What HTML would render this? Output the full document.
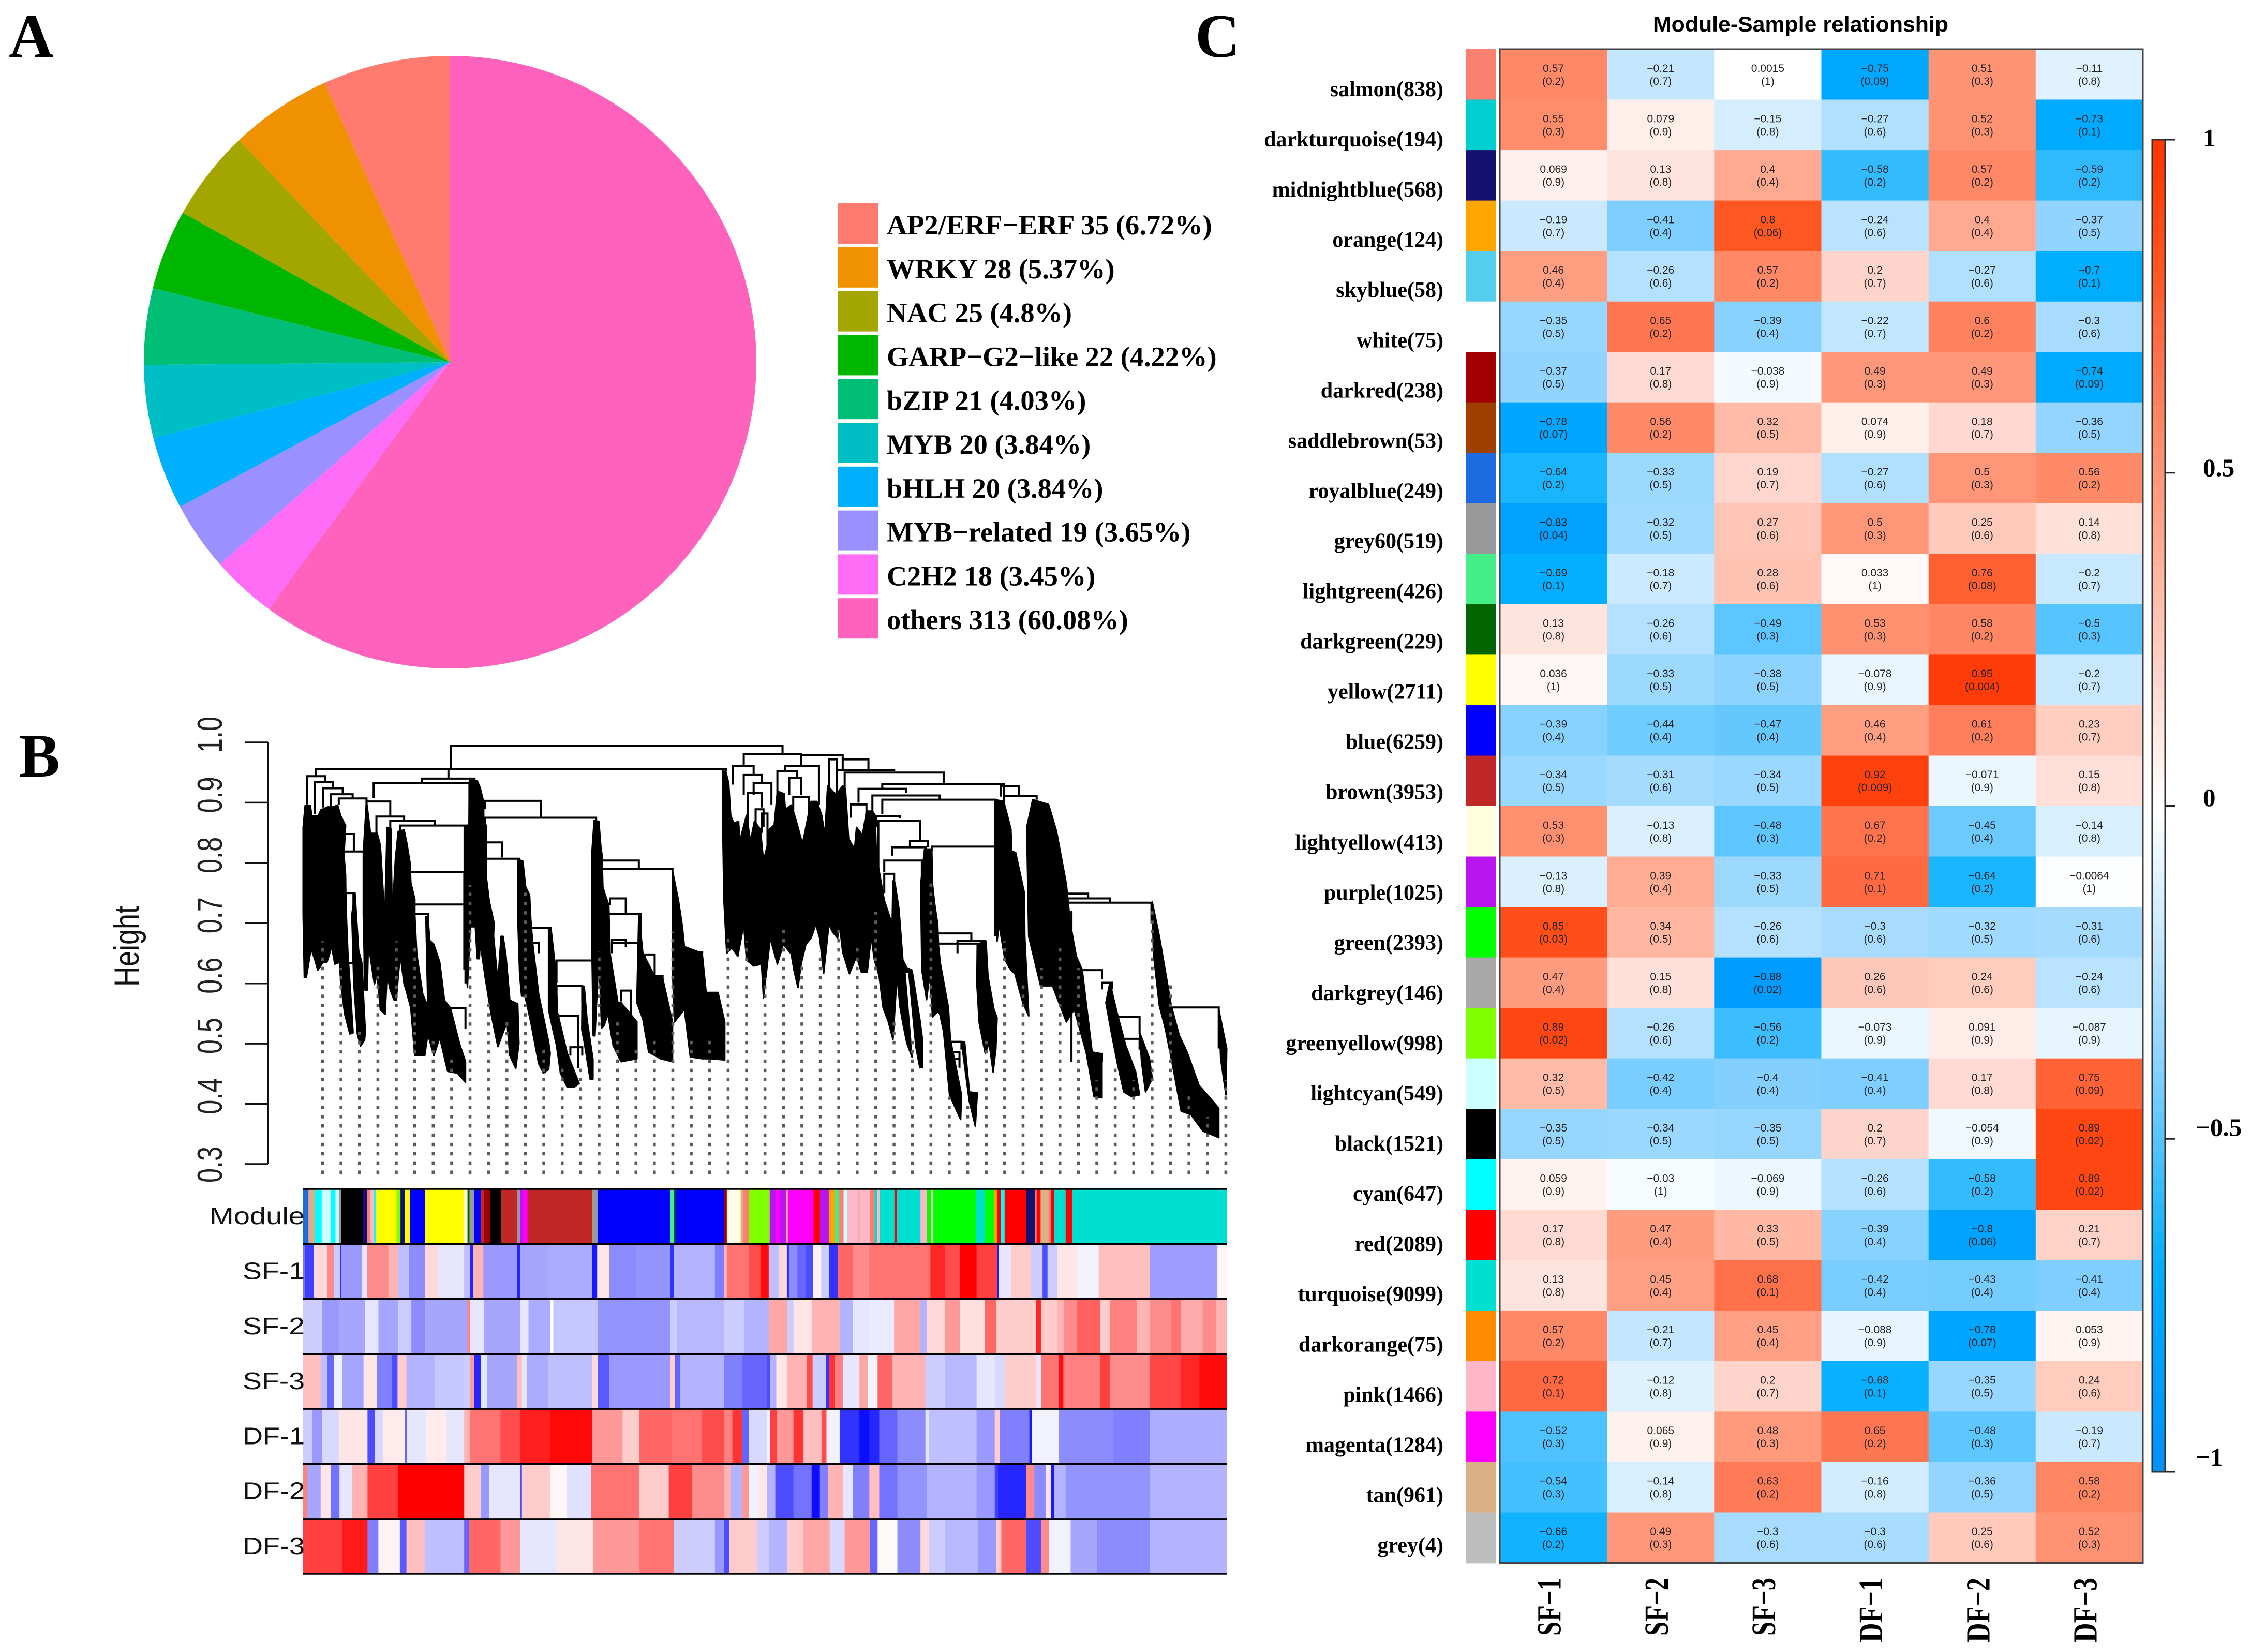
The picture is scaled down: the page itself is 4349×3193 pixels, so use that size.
<!DOCTYPE html>
<html>
<head>
<meta charset="utf-8">
<title>Module analysis figure</title>
<style>
html,body{margin:0;padding:0;background:#fff;}
svg{display:block;}
text{white-space:pre;}
.serif{font-family:"Liberation Serif",serif;font-weight:bold;}
.sans{font-family:"Liberation Sans",sans-serif;}
</style>
</head>
<body>
<svg id="fig" xmlns="http://www.w3.org/2000/svg" width="4349" height="3193" viewBox="0 0 4349 3193">
<rect width="4349" height="3193" fill="#fff"/>
<g id="pie"></g>
<g id="pieLegend"></g>
<g id="dendro"></g>
<g id="tracks"></g>
<g id="heat"></g>
<g id="cbar"></g>
<text x="17" y="110" class="serif" font-size="120">A</text>
<text x="36" y="1501" class="serif" font-size="120">B</text>
<text x="2310" y="110" class="serif" font-size="120">C</text>
<text x="3195" y="61" class="sans" font-weight="bold" font-size="42" textLength="571" lengthAdjust="spacingAndGlyphs">Module-Sample relationship</text>
</svg>
<script>
const NS = 'http://www.w3.org/2000/svg';

/* ---------- Panel A data ---------- */
const pieFamilies = ['AP2/ERF−ERF','WRKY','NAC','GARP−G2−like','bZIP','MYB','bHLH','MYB−related','C2H2','others'];
const pieCounts = [35,28,25,22,21,20,20,19,18,313];
const piePercents = ['6.72%','5.37%','4.8%','4.22%','4.03%','3.84%','3.84%','3.65%','3.45%','60.08%'];
const pieColors = ['#FF7B6F','#EF9100','#A3A500','#00B600','#00BE75','#00BFC4','#00B0FF','#9B90FF','#FF6CF5','#FF62BC'];

/* ---------- Panel B data ---------- */
const heightTicks = [1.0,0.9,0.8,0.7,0.6,0.5,0.4,0.3];
const heightTickLabels = ['1.0','0.9','0.8','0.7','0.6','0.5','0.4','0.3'];
const leafCount = 2333;
/* dendrogram lobes: outlines of dense branches as [leaf, height] */
const lobes = [
[[0,.859],[5,.895],[18,.895],[22,.878],[38,.878],[45,.888],[62,.893],[75,.893],[87,.896],[95,.878],[107,.862],[103,.813],[107,.780],[108,.730],[113,.648],[120,.582],[126,.518],[118,.516],[105,.549],[95,.599],[92,.635],[80,.632],[72,.661],[60,.635],[50,.635],[37,.622],[30,.638],[20,.658],[8,.610],[3,.610],[0,.714]],
[[123,.714],[131,.750],[140,.655],[148,.635],[157,.520],[155,.506],[145,.496],[137,.516],[128,.600]],
[[152,.816],[160,.903],[170,.849],[187,.849],[195,.829],[206,.707],[209,.780],[212,.859],[222,.857],[222,.832],[225,.714],[233,.806],[240,.852],[255,.855],[262,.832],[270,.800],[272,.767],[282,.740],[282,.714],[287,.648],[302,.582],[315,.562],[310,.711],[315,.711],[320,.671],[330,.665],[345,.635],[357,.572],[372,.559],[395,.500],[410,.470],[410,.436],[390,.451],[365,.454],[345,.510],[330,.480],[315,.516],[307,.480],[282,.480],[272,.559],[260,.589],[255,.599],[245,.648],[235,.572],[230,.572],[220,.589],[212,.615],[207,.549],[195,.556],[187,.615],[180,.599],[170,.642],[165,.675],[162,.589],[156,.589],[152,.714]],
[[419,.864],[420,.936],[440,.936],[447,.925],[456,.901],[456,.875],[462,.862],[462,.780],[470,.737],[482,.701],[481,.678],[492,.602],[500,.678],[505,.678],[512,.648],[522,.572],[542,.566],[545,.500],[537,.459],[522,.480],[515,.536],[492,.495],[475,.549],[460,.609],[447,.668],[445,.641],[440,.641],[435,.694],[422,.694],[415,.594],[407,.665],[407,.859]],
[[542,.806],[555,.803],[562,.760],[572,.747],[575,.707],[580,.665],[595,.582],[620,.503],[624,.484],[620,.457],[607,.451],[595,.467],[575,.536],[565,.566],[560,.579],[552,.579],[547,.615],[542,.714]],
[[620,.691],[626,.691],[639,.615],[642,.553],[667,.484],[697,.434],[685,.428],[667,.428],[650,.451],[640,.497],[630,.526],[620,.556]],
[[705,.595],[710,.595],[717,.540],[732,.474],[732,.441],[725,.441],[710,.503],[704,.523]],
[[735,.870],[747,.869],[752,.826],[755,.813],[757,.760],[763,.747],[772,.730],[775,.65],[795,.568],[803,.568],[843,.536],[843,.475],[803,.470],[783,.497],[770,.549],[760,.530],[754,.526],[750,.60],[745,.620],[737,.513],[733,.513],[730,.640],[729,.813]],
[[848,.716],[858,.650],[888,.612],[908,.609],[933,.536],[933,.470],[903,.475],[873,.486],[858,.541],[843,.568]],
[[933,.787],[948,.738],[958,.694],[963,.661],[1008,.650],[1018,.585],[1048,.585],[1065,.536],[1065,.473],[1028,.475],[1008,.475],[978,.478],[963,.557],[938,.536],[933,.623]],
[[1060,.953],[1068,.951],[1075,.932],[1080,.879],[1088,.866],[1100,.869],[1103,.836],[1120,.879],[1130,.836],[1140,.869],[1155,.856],[1163,.803],[1173,.830],[1173,.853],[1190,.863],[1198,.919],[1215,.915],[1218,.889],[1233,.896],[1243,.876],[1258,.840],[1263,.836],[1273,.869],[1283,.902],[1298,.902],[1310,.879],[1318,.846],[1325,.928],[1343,.915],[1353,.919],[1363,.928],[1370,.922],[1378,.840],[1393,.823],[1398,.859],[1413,.846],[1423,.886],[1438,.886],[1445,.879],[1448,.813],[1468,.738],[1488,.698],[1490,.770],[1495,.767],[1505,.724],[1515,.639],[1525,.626],[1538,.622],[1558,.540],[1565,.504],[1565,.461],[1558,.460],[1548,.494],[1530,.619],[1520,.619],[1538,.478],[1525,.501],[1515,.534],[1508,.560],[1500,.613],[1490,.507],[1478,.537],[1465,.560],[1455,.613],[1443,.639],[1435,.678],[1425,.619],[1410,.619],[1398,.645],[1380,.616],[1363,.652],[1355,.698],[1350,.675],[1338,.685],[1328,.698],[1315,.617],[1305,.675],[1295,.698],[1283,.675],[1270,.665],[1258,.632],[1250,.593],[1240,.622],[1233,.649],[1213,.665],[1198,.632],[1180,.675],[1163,.576],[1158,.632],[1138,.629],[1120,.639],[1113,.698],[1098,.645],[1083,.659],[1070,.650],[1063,.738],[1060,.863]],
[[1570,.823],[1588,.823],[1590,.764],[1595,.734],[1603,.698],[1605,.662],[1610,.632],[1630,.560],[1635,.507],[1663,.415],[1661,.374],[1633,.415],[1618,.520],[1608,.550],[1603,.553],[1590,.544],[1583,.616],[1575,.573],[1563,.622],[1560,.764]],
[[1663,.503],[1671,.503],[1683,.420],[1703,.418],[1698,.363],[1683,.404]],
[[1703,.665],[1725,.670],[1730,.612],[1745,.557],[1753,.543],[1750,.491],[1743,.453],[1733,.501],[1723,.484],[1708,.534],[1702,.599]],
[[1748,.905],[1770,.902],[1788,.856],[1790,.820],[1800,.817],[1822,.750],[1823,.678],[1833,.546],[1818,.568],[1798,.616],[1788,.622],[1773,.639],[1758,.698],[1753,.670],[1748,.797]],
[[1828,.859],[1843,.905],[1883,.897],[1903,.853],[1928,.765],[1938,.700],[1953,.645],[1968,.623],[1993,.486],[2018,.483],[2018,.410],[1998,.412],[1978,.486],[1948,.557],[1928,.536],[1893,.596],[1863,.596],[1833,.678]],
[[2038,.601],[2058,.546],[2078,.497],[2103,.453],[2113,.415],[2093,.412],[2073,.420],[2058,.464],[2043,.514],[2028,.568]],
[[2113,.519],[2138,.475],[2145,.442],[2128,.420],[2118,.470]],
[[2145,.735],[2163,.678],[2193,.563],[2213,.514],[2233,.486],[2263,.431],[2313,.393],[2313,.344],[2273,.355],[2243,.382],[2218,.388],[2198,.459],[2178,.525],[2163,.563],[2148,.650]],
[[2313,.557],[2333,.492],[2331,.415],[2318,.475]]
];
/* merges: [leftLeaf, rightLeaf, mergeHeight, leftChildHeight, rightChildHeight] */
const merges = [
[373,1211,.994,.957,.982],[32,1068,.956,.944,.952],[367,367,.956,.94,.94],[300,433,.940,.933,.930],[178,420,.933,.908,.864],
[10,55,.944,.897,.935],[30,75,.934,.881,.924],[50,100,.924,.892,.916],[70,125,.914,.892,.908],[90,160,.907,.897,.787],
[160,220,.902,.787,.878],[185,255,.877,.848,.872],[220,333,.870,.853,.863],[245,420,.862,.842,.733],[270,407,.785,.793,.733],
[280,407,.731,.716,.623],[280,315,.715,.70,.661],[460,600,.903,.89,.875],[460,740,.875,.859,.640],[460,503,.834,.82,.809],
[460,545,.807,.80,.787],[575,625,.692,.67,.640],[575,595,.667,.65,.65],[640,733,.638,.601,.514],[640,705,.596,.57,.568],
[645,695,.546,.52,.459],[675,705,.494,.48,.48],[103,155,.819,.80,.596],[103,128,.848,.82,.819],[108,127,.750,.74,.634],
[110,140,.634,.62,.62],[755,848,.804,.79,.790],[755,933,.790,.78,.787],[765,853,.715,.70,.552],[775,815,.741,.73,.716],
[780,848,.667,.65,.568],[780,815,.672,.66,.66],[863,888,.648,.63,.612],[888,908,.612,.60,.541],[803,828,.588,.57,.541],
[1113,1258,.981,.961,.979],[1258,1363,.979,.961,.972],[1363,1428,.972,.952,.954],[1086,1138,.961,.930,.946],[1113,1158,.946,.913,.933],
[1138,1183,.933,.913,.897],[1123,1158,.916,.842,.892],[1143,1163,.889,.84,.86],[1158,1173,.882,.85,.83],[1198,1248,.952,.913,.941],
[1218,1303,.961,.952,.897],[1228,1258,.941,.913,.913],[1238,1278,.909,.875,.837],[1328,1348,.972,.88,.88],[1348,1493,.954,.90,.952],
[1368,1618,.950,.886,.933],[1463,1771,.931,.924,.913],[1403,1523,.923,.900,.916],[1438,1608,.912,.881,.906],[1463,1748,.905,.881,.678],
[1383,1423,.897,.875,.881],[1448,1508,.878,.86,.874],[1453,1558,.870,.787,.837],[1533,1578,.836,.826,.826],[1488,1573,.826,.812,.804],
[1588,1748,.827,.82,.75],[1468,1563,.804,.785,.733],[1763,1808,.927,.91,.913],[1771,1853,.911,.89,.905],[1468,1493,.782,.75,.76],
[1928,1983,.749,.74,.74],[1928,2038,.741,.73,.734],[1928,2143,.734,.70,.700],[1603,1688,.683,.67,.672],[1603,1708,.666,.62,.656],
[1653,1723,.671,.65,.623],[1963,2018,.622,.61,.607],[2018,2043,.601,.59,.59],[2193,2313,.560,.55,.492],[963,1008,.652,.66,.65],
[963,1003,.619,.60,.536],[1633,1663,.503,.49,.49],[1638,1658,.486,.47,.47],[1643,1658,.475,.46,.46],[2058,2113,.544,.53,.516],
[2068,2113,.508,.49,.49],[1993,2018,.483,.47,.47],[1941,1941,.72,.47,.47],[410,410,.75,.60,.60],[365,410,.559,.55,.525]
];
/* where each dotted leaf guide emerges from the tree */
const guideTops = [.640,.596,.497,.601,.640,.629,.481,.453,.733,.546,.514,.722,.459,.431,.437,.623,.514,.464,.475,.656,.475,.475,.650,.640,.579,.661,.601,.623,.667,.629,.689,.508,.475,.744,.382,.371,.481,.640,.568,.596,.634,.596,.410,.431,.410,.700,.568,.388,.349,.410];

const trackLabels = ['Module','SF-1','SF-2','SF-3','DF-1','DF-2','DF-3'];
const moduleColors = {salmon:'#fa8072',darkturquoise:'#00ced1',midnightblue:'#14126e',orange:'#ffa500',skyblue:'#55ceee',white:'#ffffff',darkred:'#a00000',saddlebrown:'#a04000',royalblue:'#1e6ae0',grey60:'#999999',lightgreen:'#44ee88',darkgreen:'#006400',yellow:'#ffff00',blue:'#0000ff',brown:'#c02828',lightyellow:'#ffffe0',purple:'#b915ee',green:'#00ff00',darkgrey:'#a9a9a9',greenyellow:'#7fff00',lightcyan:'#ccffff',black:'#000000',cyan:'#00ffff',red:'#ff0000',turquoise:'#00e0d0',darkorange:'#ff8c00',pink:'#ffb6c8',magenta:'#ff00ff',tan:'#dcb085',grey:'#bebebe'};
/* module membership in dendrogram order: [module, gene bins] */
const moduleTrack = [['royalblue',16],['tan',20],['cyan',20],['lightcyan',27],['cyan',15],['lightcyan',10],['grey60',8],['black',64],['midnightblue',13],['salmon',10],['pink',12],['cyan',6],['yellow',62],['greenyellow',12],['midnightblue',13],['yellow',15],['blue',47],['yellow',118],['lightyellow',10],['darkgreen',6],['grey60',14],['blue',20],['brown',10],['darkred',18],['black',33],['brown',49],['grey60',10],['purple',8],['magenta',14],['brown',195],['grey60',18],['blue',220],['lightgreen',10],['darkgreen',5],['blue',148],
['darkred',8],['lightyellow',12],['white',8],['lightyellow',22],['tan',8],['salmon',17],['greenyellow',63],['purple',19],['magenta',13],['purple',17],['tan',6],['magenta',78],['red',19],['purple',27],['orange',18],['lightgreen',12],['salmon',15],['lightcyan',10],['pink',35],['tan',3],['pink',32],['salmon',14],['turquoise',7],['pink',8],['turquoise',45],['red',8],['turquoise',71],['pink',20],['green',13],['pink',6],['green',129],['turquoise',26],['green',30],['orange',9],['red',10],['cyan',12],['red',65],['midnightblue',27],['salmon',5],['red',12],['tan',24],['salmon',7],['red',10],['turquoise',35],['red',20],['turquoise',468]];
/* per-sample expression: [scaled expression, gene bins] */
const trackSF1 = [[-.55,5],[-.75,28],[.15,40],[.45,20],[-.2,20],[-.85,3],[-.4,62],[-.1,15],[.45,65],[.3,30],[-.25,32],[-.45,50],[.15,38],[-.1,80],[-.25,17],[-.85,11],[.3,30],[-.4,102],[-.85,10],[-.35,85],[-.33,132],[-.9,16],[.1,37],[-.45,80],[-.42,105],[-.8,10],[-.3,125],[-.5,28],
[.3,8],[.55,67],[.7,35],[.95,25],[-.25,30],[.15,25],[-.8,7],[-.45,25],[-.6,26],[-.7,22],[.05,24],[-.2,24],[-.8,27],[.6,45],[.45,50],[.55,85],[.55,100],[.85,45],[.7,45],[1,50],[.75,63],[-.9,4],[-.1,38],[.2,60],[-.2,35],[-.7,15],[-.2,30],[.1,60],[-.05,65],[.25,155],[-.38,205],[.03,28]];
const trackSF2 = [[-.2,58],[-.4,50],[-.35,80],[-.1,40],[-.35,60],[-.2,40],[-.45,42],[-.35,128],[.5,8],[-.1,42],[-.35,110],[-.1,25],[-.33,65],[0,10],[-.22,135],[-.42,220],[-.2,20],[-.28,143],
[-.2,60],[-.3,75],[.35,55],[-.2,20],[.1,55],[.3,85],[-.3,40],[-.1,50],[-.08,75],[.35,80],[-.3,20],[.15,55],[.4,45],[.12,75],[.6,35],[.2,120],[.85,15],[.2,50],[.3,20],[.45,40],[.62,70],[.2,30],[.5,80],[.3,40],[.45,65],[.55,30],[.33,65],[.45,40],[.3,33]];
const trackSF3 = [[.25,53],[-.25,20],[-.6,20],[-.05,25],[-.35,65],[.1,40],[-.5,45],[-.7,18],[.2,27],[-.3,85],[-.22,90],[-.2,17],[.4,13],[-.85,20],[-.1,20],[-.35,90],[.25,15],[-.1,15],[-.33,65],[-.25,132],[.15,18],[-.65,35],[-.4,80],[-.4,105],[.2,13],[-.6,17],[-.3,133],
[-.5,55],[-.6,75],[-.7,10],[-.3,18],[.1,32],[.3,60],[.7,18],[-.2,40],[-.8,10],[.8,17],[.5,25],[-.1,50],[.35,25],[-.05,30],[.6,45],[.3,100],[-.2,60],[-.28,95],[-.1,55],[-.15,30],[.2,95],[-.1,15],[.55,55],[.95,13],[.5,112],[.75,30],[.45,120],[.72,95],[.85,55],[.95,83]];
const trackDF1 = [[-.2,28],[-.4,30],[-.15,50],[.1,87],[-.7,23],[-.15,25],[.08,65],[-.6,7],[-.1,58],[.08,60],[-.1,55],[.3,17],[.55,93],[.7,60],[.88,90],[.97,127],[.4,93],[.2,50],[.6,100],[.55,90],[.7,68],
[.5,25],[.8,30],[-.6,20],[-.15,55],[-.05,10],[.75,20],[.4,50],[.8,30],[.25,55],[.7,15],[-.05,40],[-.8,60],[-.95,30],[-.85,30],[-.6,55],[-.45,85],[-.1,10],[-.25,145],[-.4,55],[.2,15],[-.5,90],[-.9,7],[-.05,83],[-.45,165],[-.5,110],[-.32,233]];
const trackDF2 = [[.5,13],[-.35,40],[.1,30],[-.55,27],[-.1,38],[.3,47],[.75,93],[1,200],[.2,50],[-.4,25],[-.1,95],[-.7,5],[.2,85],[.03,50],[-.12,75],[.55,145],[.2,90],[.75,70],[.45,98],
[.3,20],[-.3,35],[.4,20],[-.05,30],[.1,25],[-.3,25],[-.7,55],[-.55,55],[-.95,25],[-.5,25],[.3,45],[-.1,30],[-.5,50],[.25,30],[-.55,55],[-.42,90],[-.3,150],[-.4,55],[-.75,10],[-.85,85],[.45,25],[-.45,35],[.1,15],[-.9,10],[-.3,35],[-.42,255],[-.3,233]];
const trackDF3 = [[.75,118],[.9,77],[-.5,33],[.05,65],[-.65,20],[.25,55],[-.25,120],[-.6,15],[.6,95],[.4,60],[-.1,110],[.1,110],[.4,140],[.55,105],[-.2,125],[-.4,28],
[-.7,15],[.2,85],[-.2,35],[-.3,55],[.2,50],[.35,80],[-.15,45],[.4,77],[-.6,23],[.02,60],[-.45,70],[.15,25],[-.2,50],[-.28,100],[-.4,55],[.2,15],[.6,75],[-.7,45],[.45,25],[-.05,65],[-.35,80],[-.45,160],[-.3,233]];

/* ---------- Panel C data ---------- */
const samples = ['SF-1','SF-2','SF-3','DF-1','DF-2','DF-3'];
const modules = ['salmon','darkturquoise','midnightblue','orange','skyblue','white','darkred','saddlebrown','royalblue','grey60','lightgreen','darkgreen','yellow','blue','brown','lightyellow','purple','green','darkgrey','greenyellow','lightcyan','black','cyan','red','turquoise','darkorange','pink','magenta','tan','grey'];
const moduleSizes = [838,194,568,124,58,75,238,53,249,519,426,229,2711,6259,3953,413,1025,2393,146,998,549,1521,647,2089,9099,75,1466,1284,961,4];
const correlations = [
[.57,-.21,.0015,-.75,.51,-.11],
[.55,.079,-.15,-.27,.52,-.73],
[.069,.13,.4,-.58,.57,-.59],
[-.19,-.41,.8,-.24,.4,-.37],
[.46,-.26,.57,.2,-.27,-.7],
[-.35,.65,-.39,-.22,.6,-.3],
[-.37,.17,-.038,.49,.49,-.74],
[-.78,.56,.32,.074,.18,-.36],
[-.64,-.33,.19,-.27,.5,.56],
[-.83,-.32,.27,.5,.25,.14],
[-.69,-.18,.28,.033,.76,-.2],
[.13,-.26,-.49,.53,.58,-.5],
[.036,-.33,-.38,-.078,.95,-.2],
[-.39,-.44,-.47,.46,.61,.23],
[-.34,-.31,-.34,.92,-.071,.15],
[.53,-.13,-.48,.67,-.45,-.14],
[-.13,.39,-.33,.71,-.64,-.0064],
[.85,.34,-.26,-.3,-.32,-.31],
[.47,.15,-.88,.26,.24,-.24],
[.89,-.26,-.56,-.073,.091,-.087],
[.32,-.42,-.4,-.41,.17,.75],
[-.35,-.34,-.35,.2,-.054,.89],
[.059,-.03,-.069,-.26,-.58,.89],
[.17,.47,.33,-.39,-.8,.21],
[.13,.45,.68,-.42,-.43,-.41],
[.57,-.21,.45,-.088,-.78,.053],
[.72,-.12,.2,-.68,-.35,.24],
[-.52,.065,.48,.65,-.48,-.19],
[-.54,-.14,.63,-.16,-.36,.58],
[-.66,.49,-.3,-.3,.25,.52]];
const pValues = [
['0.2','0.7','1','0.09','0.3','0.8'],
['0.3','0.9','0.8','0.6','0.3','0.1'],
['0.9','0.8','0.4','0.2','0.2','0.2'],
['0.7','0.4','0.06','0.6','0.4','0.5'],
['0.4','0.6','0.2','0.7','0.6','0.1'],
['0.5','0.2','0.4','0.7','0.2','0.6'],
['0.5','0.8','0.9','0.3','0.3','0.09'],
['0.07','0.2','0.5','0.9','0.7','0.5'],
['0.2','0.5','0.7','0.6','0.3','0.2'],
['0.04','0.5','0.6','0.3','0.6','0.8'],
['0.1','0.7','0.6','1','0.08','0.7'],
['0.8','0.6','0.3','0.3','0.2','0.3'],
['1','0.5','0.5','0.9','0.004','0.7'],
['0.4','0.4','0.4','0.4','0.2','0.7'],
['0.5','0.6','0.5','0.009','0.9','0.8'],
['0.3','0.8','0.3','0.2','0.4','0.8'],
['0.8','0.4','0.5','0.1','0.2','1'],
['0.03','0.5','0.6','0.6','0.5','0.6'],
['0.4','0.8','0.02','0.6','0.6','0.6'],
['0.02','0.6','0.2','0.9','0.9','0.9'],
['0.5','0.4','0.4','0.4','0.8','0.09'],
['0.5','0.5','0.5','0.7','0.9','0.02'],
['0.9','1','0.9','0.6','0.2','0.02'],
['0.8','0.4','0.5','0.4','0.06','0.7'],
['0.8','0.4','0.1','0.4','0.4','0.4'],
['0.2','0.7','0.4','0.9','0.07','0.9'],
['0.1','0.8','0.7','0.1','0.5','0.6'],
['0.3','0.9','0.3','0.2','0.3','0.7'],
['0.3','0.8','0.2','0.8','0.5','0.2'],
['0.2','0.3','0.6','0.6','0.6','0.3']];
const colorbarTicks = [1,.5,0,-.5,-1];
const colorbarTickLabels = ['1','0.5','0','−0.5','−1'];

/* ---------- helpers ---------- */
function mk(tag, parent, attrs){
  const el = document.createElementNS(NS, tag);
  for (const k in attrs) el.setAttribute(k, attrs[k]);
  parent.appendChild(el);
  return el;
}
function hex(c){return [parseInt(c.slice(1,3),16),parseInt(c.slice(3,5),16),parseInt(c.slice(5,7),16)];}
const negStops = [[0,'#ffffff'],[.21,'#c4e7ff'],[.37,'#90d4ff'],[.58,'#33bbff'],[.7,'#00aeff'],[1,'#0090ff']];
const posStops = [[0,'#ffffff'],[.2,'#ffd4ca'],[.4,'#ffaa90'],[.57,'#ff8866'],[.72,'#ff6840'],[.8,'#ff5722'],[1,'#ff3300']];
function corrColor(v){
  const s = v<0?negStops:posStops, a=Math.min(1,Math.abs(v));
  for(let i=1;i<s.length;i++){
    if(a<=s[i][0]){
      const t=(a-s[i-1][0])/(s[i][0]-s[i-1][0]),p=hex(s[i-1][1]),q=hex(s[i][1]);
      return 'rgb('+p.map((x,j)=>Math.round(x+(q[j]-x)*t)).join(',')+')';
    }
  }
  return s[s.length-1][1];
}
function exprColor(v){
  const u=Math.round(255*(1-Math.abs(v)));
  return v>=0?'rgb(255,'+u+','+u+')':'rgb('+u+','+u+',255)';
}

/* ---------- Panel A ---------- */
(function(){
  const g=document.getElementById('pie'), lg=document.getElementById('pieLegend');
  const cx=870, cy=700, r=592;
  const total=pieCounts.reduce((a,b)=>a+b,0);
  let acc=0;
  pieCounts.forEach(function(n,i){
    const a0=acc/total*2*Math.PI, a1=(acc+n)/total*2*Math.PI;
    acc+=n;
    const x0=cx-r*Math.sin(a0), y0=cy-r*Math.cos(a0), x1=cx-r*Math.sin(a1), y1=cy-r*Math.cos(a1);
    const large=(a1-a0)>Math.PI?1:0;
    const p=mk('path',g,{d:'M'+cx+' '+cy+'L'+x0+' '+y0+'A'+r+' '+r+' 0 '+large+' 0 '+x1+' '+y1+'Z',fill:pieColors[i]});
    
    
    const sw=mk('rect',lg,{x:1619,y:393+i*84.8,width:78,height:78,fill:pieColors[i]});
    
    
    const t=mk('text',lg,{x:1714,y:453+i*84.8,'class':'serif','font-size':54.4});
    t.textContent=pieFamilies[i]+' '+n+' ('+piePercents[i]+')';
    
    
  });
})();

/* ---------- Panel B ---------- */
const xLeft=586, xRight=2371;
function leafX(l){return xLeft+l*(xRight-xLeft)/leafCount;}
function heightY(h){return 1435+(1-h)*(2250-1435)/0.7;}
(function(){
  const g=document.getElementById('dendro');
  /* axis */
  const ax=mk('path',g,{d:'M518 '+heightY(1)+'V'+heightY(.3),stroke:'#111','stroke-width':4,fill:'none'});
  
  
  heightTicks.forEach(function(h,i){
    const y=heightY(h);
    const tk=mk('line',g,{x1:474,x2:518,y1:y,y2:y,stroke:'#111','stroke-width':3.5});
    
    
    const ly=y+(i===heightTicks.length-1?1:-15);
    const t=mk('text',g,{transform:'translate(429,'+ly+') rotate(-90)','text-anchor':'middle','class':'sans','font-size':68,textLength:70,lengthAdjust:'spacingAndGlyphs',fill:'#222'});
    t.textContent=heightTickLabels[i];
    
    
  });
  const yt=mk('text',g,{transform:'translate(268,1829) rotate(-90)','text-anchor':'middle','class':'sans','font-size':68,textLength:156,lengthAdjust:'spacingAndGlyphs',fill:'#111'});
  yt.textContent='Height';
  
  
  /* lobes */
  lobes.forEach(function(pts){
    const pg=mk('polygon',g,{points:pts.map(p=>leafX(p[0]).toFixed(1)+','+heightY(p[1]).toFixed(1)).join(' '),fill:'#000',stroke:'#000','stroke-width':3,'stroke-linejoin':'round'});
    
    
  });
  /* merges */
  merges.forEach(function(m){
    const xl=leafX(m[0]),xr=leafX(m[1]),y=heightY(m[2]);
    const p=mk('path',g,{d:'M'+xl+' '+heightY(m[3])+'V'+y+'H'+xr+'V'+heightY(m[4]),fill:'none',stroke:'#000','stroke-width':4});
    
    
  });
  /* guides, drawn from the baseline upward over the tree */
  guideTops.forEach(function(h,i){
    const x=leafX(49+i*46.57);
    const d=mk('line',g,{x1:x,x2:x,y1:2269,y2:heightY(h+.03),stroke:'#5a5a5a','stroke-width':5.5,'stroke-dasharray':'6.5 11.4'});
    
    
  });
})();
(function(){
  const g=document.getElementById('tracks');
  const tracks=[moduleTrack,trackSF1,trackSF2,trackSF3,trackDF1,trackDF2,trackDF3];
  const rowTop=2298, rowH=106.3;
  tracks.forEach(function(tr,r){
    const total=tr.reduce((a,b)=>a+b[1],0);
    let acc=0;
    const y=rowTop+r*rowH;
    tr.forEach(function(s){
      const x0=xLeft+acc/total*(xRight-xLeft);
      acc+=s[1];
      const x1=xLeft+acc/total*(xRight-xLeft);
      const c=r===0?moduleColors[s[0]]:exprColor(s[0]);
      const b=mk('rect',g,{x:x0.toFixed(2),y:y.toFixed(1),width:(x1-x0+.4).toFixed(2),height:rowH.toFixed(1),fill:c});
      
      
    });
    const t=mk('text',g,{x:589,y:(y+rowH/2+15).toFixed(1),'text-anchor':'end','class':'sans','font-size':46,textLength:r===0?184:120,lengthAdjust:'spacingAndGlyphs',fill:'#111'});
    t.textContent=trackLabels[r];
    
    
  });
  for(let i=0;i<=7;i++){
    const y=rowTop+i*rowH;
    const l=mk('line',g,{x1:xLeft,x2:xRight,y1:y,y2:y,stroke:'#000','stroke-width':3.4});
    
    
  }
})();

/* ---------- Panel C ---------- */
function fmt(v){return (v<0?'−':'')+String(Math.abs(v));}
(function(){
  const g=document.getElementById('heat');
  const x0=2899, y0=95, cw=(4142-2899)/samples.length, rh=(3021-95)/modules.length;
  correlations.forEach(function(row,r){
    const y=y0+r*rh;
    const sw=mk('rect',g,{x:2833,y:y.toFixed(1),width:58,height:(rh+.4).toFixed(1),fill:moduleColors[modules[r]]});
    
    
    const lb=mk('text',g,{x:2790,y:(186+r*97.05).toFixed(1),'text-anchor':'end','class':'serif','font-size':42});
    lb.textContent=modules[r]+'('+moduleSizes[r]+')';
    
    
    row.forEach(function(v,c){
      const x=x0+c*cw;
      const cell=mk('rect',g,{x:x.toFixed(1),y:y.toFixed(1),width:(cw+.4).toFixed(1),height:(rh+.4).toFixed(1),fill:corrColor(v)});
      
      
      const t1=mk('text',g,{x:(x+cw/2).toFixed(1),y:(y+rh/2-5).toFixed(1),'text-anchor':'middle','class':'sans','font-size':21,fill:'#222'});
      t1.textContent=fmt(v);
      
      
      const t2=mk('text',g,{x:(x+cw/2).toFixed(1),y:(y+rh/2+20).toFixed(1),'text-anchor':'middle','class':'sans','font-size':21,fill:'#222'});
      t2.textContent='('+pValues[r][c]+')';
      
      
    });
  });
  const frame=mk('rect',g,{x:x0,y:y0,width:4142-x0,height:3021-y0,fill:'none',stroke:'#444','stroke-width':3});
  
  
  samples.forEach(function(s,c){
    const xc=x0+(c+.5)*cw-8;
    const t=mk('text',g,{transform:'translate('+(xc+22).toFixed(1)+',3049) rotate(-90)','text-anchor':'end','class':'serif','font-size':66,textLength:s[0]==='D'?125:113,lengthAdjust:'spacingAndGlyphs'});
    t.textContent=s.replace('-','−');
    
    
  });
})();
(function(){
  const g=document.getElementById('cbar');
  const top=270, bottom=2845;
  function vy(v){return top+(1-v)*(bottom-top)/2;}
  for(let v=1;v>-1;v-=0.02){
    const y=vy(v);
    const s=mk('rect',g,{x:4160,y:y.toFixed(1),width:25,height:(vy(v-0.02)-y+.5).toFixed(1),fill:corrColor(v-0.01)});
    
    
  }
  const b=mk('rect',g,{x:4160,y:top,width:25,height:bottom-top,fill:'none',stroke:'#333','stroke-width':3});
  
  
  colorbarTicks.forEach(function(v,i){
    const y=vy(v);
    const tk=mk('line',g,{x1:4185,x2:4204,y1:y,y2:y,stroke:'#222','stroke-width':3});
    
    
    const t=mk('text',g,{x:v<0?4244:4258,y:(266+(1-v)*1275+17).toFixed(1),'class':'serif','font-size':49});
    t.textContent=colorbarTickLabels[i];
    
    
  });
})();
</script>
</body>
</html>
